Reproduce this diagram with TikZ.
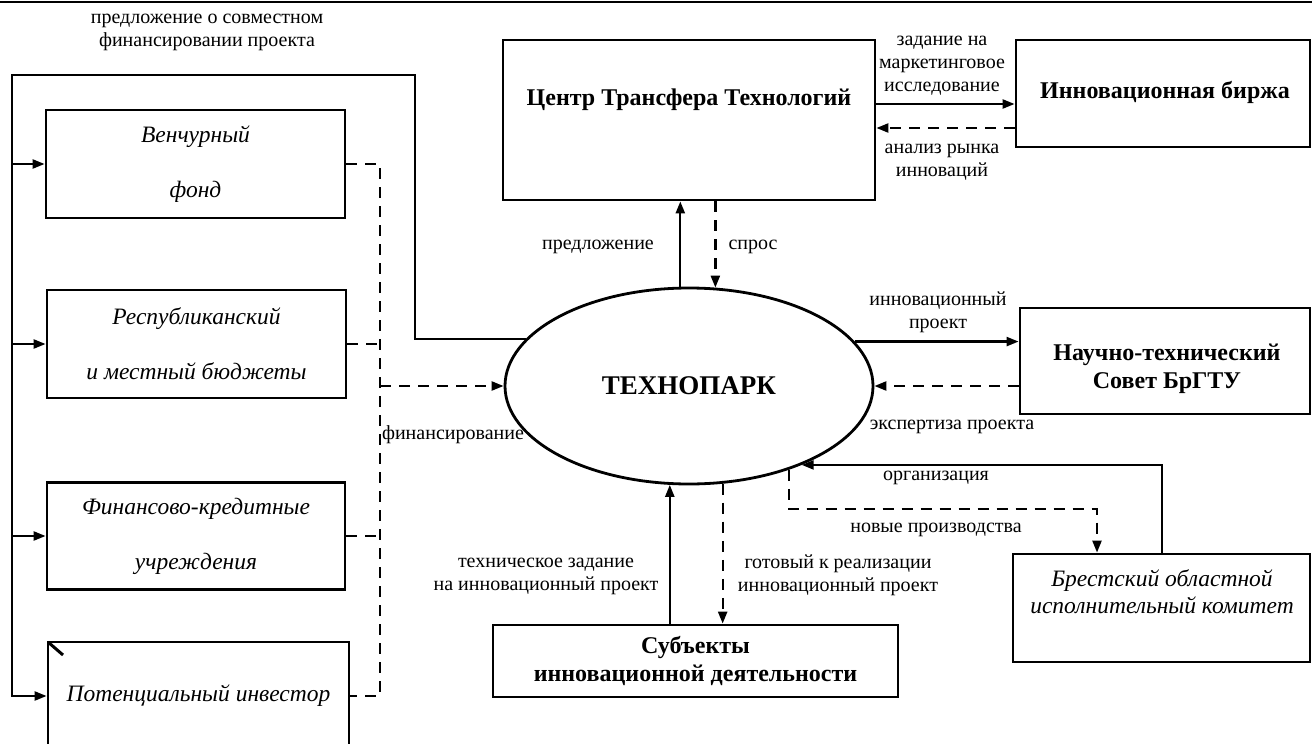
\documentclass[tikz,border=0pt]{standalone}
\usepackage{fontspec}
\setmainfont{Liberation Serif}
\usetikzlibrary{arrows.meta,shapes.geometric}
\begin{document}
\begin{tikzpicture}[x=1pt,y=-1pt,
  box/.style={draw, line width=2.8pt, inner sep=0pt, align=center},
  arr/.style={line width=2.3pt, -{Triangle[length=12pt,width=9pt]}},
  darr/.style={arr, dash pattern=on 11pt off 8pt},
  dline/.style={line width=2.3pt, dash pattern=on 11pt off 8pt},
  lbl/.style={inner sep=0pt, align=center, font=\fontsize{20}{23}\selectfont},
  itx/.style={font=\fontsize{23.5}{55}\selectfont\itshape},
  itb/.style={inner sep=0pt, align=center, font=\fontsize{23.5}{27}\selectfont\itshape},
  bfx/.style={inner sep=0pt, align=center, font=\fontsize{24}{28}\selectfont\bfseries},
]
\useasboundingbox (0,0) rectangle (1312,744);
\clip (0,0) rectangle (1312,744);

% top rule
\coordinate (r1) at (0,2);
\coordinate (r2) at (1312,2);
\draw[line width=1.5pt] (r1) -- (r2);

% left boxes
\node[box, itx, minimum width=299pt, minimum height=108pt] (venture) at (195.5,164) {Венчурный\\фонд};
\node[box, itx, minimum width=299pt, minimum height=108pt] (republic) at (196.5,344) {Республиканский\\и местный бюджеты};
\node[box, itx, minimum width=298pt, minimum height=107pt] (fin) at (196,536) {Финансово-кредитные\\учреждения};
\node[box, itx, minimum width=301pt, minimum height=108pt] (pot) at (198.5,696) {Потенциальный инвестор};
\coordinate (m1) at (48,642);
\coordinate (m2) at (63,655);
\draw[line width=3pt] (m1) -- (m2);

% central ellipse
\node[draw, ellipse, line width=2.8pt, inner sep=0pt, minimum width=368pt, minimum height=196pt,
      font=\fontsize{27}{32}\selectfont\bfseries] (tp) at (689,386) {ТЕХНОПАРК};

% other boxes
\node[box, minimum width=372pt, minimum height=160pt] (ctt) at (689,120) {};
\node[bfx] (cttl) at (689,100) {Центр Трансфера Технологий};
\node[box, minimum width=294pt, minimum height=107pt] (birzha) at (1163,93.5) {};
\node[bfx] (birzhal) at (1165,92) {Инновационная биржа};
\node[box, minimum width=290pt, minimum height=106pt] (nts) at (1165,361) {};
\node[bfx] (ntsl) at (1167,369) {Научно-технический\\Совет БрГТУ};
\node[box, bfx, minimum width=405pt, minimum height=72pt] (subj) at (695.5,661) {Субъекты\\инновационной деятельности};
\node[box, minimum width=297pt, minimum height=108pt] (brest) at (1161.5,608) {};
\node[itb] (brestl) at (1162,592) {Брестский областной\\исполнительный комитет};

% left loop
\coordinate (l1) at (415,75);
\coordinate (l2) at (12,696);
\draw[arr] (tp.164.2) -| (l1) -| (l2) -- (pot.west);
\draw[arr] (venture.west -| l2) -- (venture.west);
\draw[arr] (republic.west -| l2) -- (republic.west);
\draw[arr] (fin.west -| l2) -- (fin.west);

% dashed financing collector
\coordinate (dtop) at (380,164);
\coordinate (dbot) at (380,696);
\coordinate (fx) at (380,386);
\draw[dline] (venture.east) -- (dtop) -- (dbot) -- (pot.east);
\draw[dline] (republic.east) -- (republic.east -| dtop);
\draw[dline] (fin.east) -- (fin.east -| dtop);
\draw[darr] (fx) -- (tp.west);

% CTT <-> birzha
\coordinate (ya) at (0,104);
\coordinate (yb) at (0,128);
\draw[arr] (ctt.east |- ya) -- (birzha.west |- ya);
\draw[darr] (birzha.west |- yb) -- (ctt.east |- yb);

% tp <-> ctt
\draw[arr] (tp.95.2) -- (tp.95.2 |- ctt.south);
\draw[darr] (ctt.south -| tp.75.6) -- (tp.75.6);

% tp <-> nts
\draw[arr] (tp.15.4) -- (tp.15.4 -| nts.west);
\draw[darr] (tp.east -| nts.west) -- (tp.east);

% tp <-> subjects
\draw[arr] (subj.north -| tp.-101) -- (tp.-101);
\draw[darr] (tp.-71.1) -- (tp.-71.1 |- subj.north);

% tp <-> brest
\coordinate (orgx) at (1162,0);
\draw[arr] (brest.north -| orgx) |- (tp.-35.9);
\coordinate (npc) at (1097,509);
\draw[darr] (tp.-40.3) |- (npc) -- (npc |- brest.north);

% labels
\node[lbl] (t1) at (207,32) {предложение о совместном\\финансировании проекта};
\node[lbl] (t2) at (942,66) {задание на\\маркетинговое\\исследование};
\node[lbl] (t3) at (942,162) {анализ рынка\\инноваций};
\node[lbl] (t4) at (598,247) {предложение};
\node[lbl] (t5) at (753,247) {спрос};
\node[lbl] (t6) at (938,312) {инновационный\\проект};
\node[lbl] (t7) at (952,427) {экспертиза проекта};
\node[lbl] (t8) at (453,435) {финансирование};
\node[lbl] (t9) at (936,478) {организация};
\node[lbl] (t10) at (936,530) {новые производства};
\node[lbl] (t11) at (546,576) {техническое задание\\на инновационный проект};
\node[lbl] (t12) at (838,575) {готовый к реализации\\инновационный проект};
\end{tikzpicture}
\end{document}
